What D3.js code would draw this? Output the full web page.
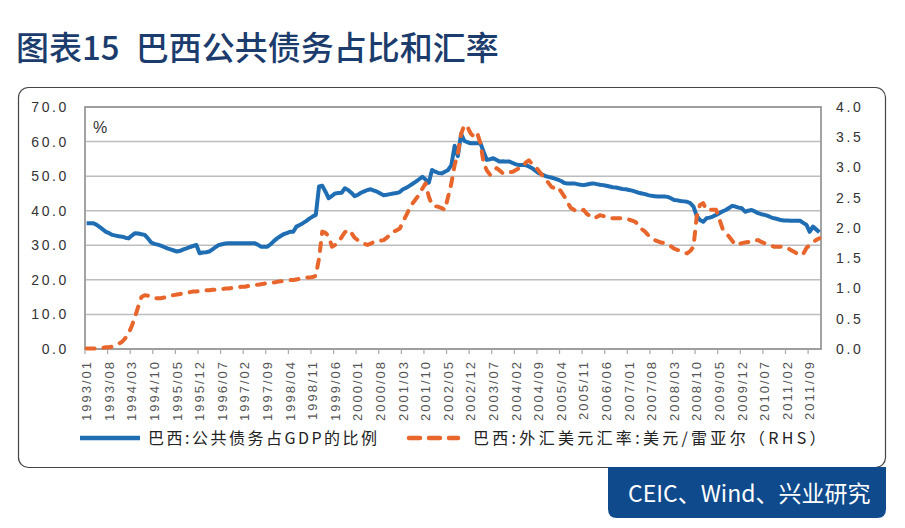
<!DOCTYPE html>
<html>
<head>
<meta charset="utf-8">
<script src="https://cdn.jsdelivr.net/npm/d3@7"></script>
<style>
  html, body { margin: 0; padding: 0; background: #fff; }
  svg { display: block; }
</style>
</head>
<body>
<svg id="chart" width="905" height="528"></svg>
<script>
// ---------------- DATA ----------------
const titleNumber = "图表15";
const titleText = "巴西公共债务占比和汇率";
const sourceText = "CEIC、Wind、兴业研究";
const seriesNames = ["巴西:公共债务占GDP的比例", "巴西:外汇美元汇率:美元/雷亚尔（RHS）"];
const startYear = 1993, endYear = 2011;
const leftTicks = [0, 10, 20, 30, 40, 50, 60, 70];
const rightTicks = [0, 0.5, 1.0, 1.5, 2.0, 2.5, 3.0, 3.5, 4.0];
const labelEvery = 7;

// Public debt, % of GDP (monthly, 1993/01 - 2011/12)
const debtRatio = [
  36.4, 36.4, 36.4, 36.0, 35.3, 34.6, 33.9, 33.5, 33.0, 32.8, 32.6, 32.5,   // 1993
  32.2, 32.0, 32.8, 33.5, 33.4, 33.2, 33.0, 32.0, 30.8, 30.4, 30.2, 29.9,   // 1994
  29.5, 29.1, 28.8, 28.5, 28.2, 28.4, 28.8, 29.1, 29.5, 29.8, 30.1, 27.7,   // 1995
  27.9, 28.0, 28.2, 28.8, 29.5, 30.1, 30.3, 30.5, 30.6, 30.6, 30.6, 30.6,   // 1996
  30.6, 30.6, 30.6, 30.6, 30.6, 30.2, 29.6, 29.6, 29.6, 30.3, 31.2, 32.0,   // 1997
  32.6, 33.2, 33.5, 33.9, 33.9, 35.4, 35.9, 36.4, 37.0, 37.7, 38.3, 38.8,   // 1998
  47.0, 47.2, 45.5, 43.6, 44.3, 45.0, 45.1, 45.2, 46.5, 46.0, 45.2, 44.2,   // 1999
  44.6, 45.2, 45.6, 46.0, 46.2, 45.8, 45.5, 45.0, 44.5, 44.6, 44.8, 45.0,   // 2000
  45.1, 45.4, 46.2, 46.6, 47.2, 47.8, 48.4, 49.1, 49.8, 49.0, 48.1, 51.8,   // 2001
  51.3, 50.9, 50.8, 51.3, 51.8, 53.2, 58.8, 55.8, 62.2, 60.2, 59.8, 59.5,   // 2002
  59.5, 59.5, 59.5, 57.0, 54.7, 54.9, 55.2, 54.7, 54.2, 54.3, 54.2, 54.2,   // 2003
  53.8, 53.4, 53.2, 53.2, 53.2, 52.8, 52.3, 51.6, 50.9, 50.5, 50.1, 49.8,   // 2004
  49.6, 49.3, 49.0, 48.6, 48.0, 47.9, 47.9, 47.9, 47.7, 47.5, 47.4, 47.6,   // 2005
  47.8, 47.9, 47.7, 47.5, 47.4, 47.2, 47.0, 46.8, 46.7, 46.5, 46.3, 46.2,   // 2006
  46.0, 45.8, 45.5, 45.2, 45.0, 44.8, 44.5, 44.3, 44.2, 44.1, 44.1, 44.1,   // 2007
  44.0, 43.6, 43.1, 43.0, 42.8, 42.7, 42.6, 42.2, 41.2, 38.5, 37.3, 36.8,   // 2008
  37.8, 38.0, 38.3, 38.8, 39.3, 39.8, 40.2, 40.8, 41.4, 41.2, 40.9, 40.7,   // 2009
  39.7, 40.0, 40.2, 39.8, 39.3, 39.0, 38.8, 38.5, 38.1, 37.8, 37.6, 37.3,   // 2010
  37.2, 37.2, 37.1, 37.1, 37.1, 37.1, 36.5, 35.9, 33.9, 35.4, 34.6, 33.8    // 2011
];

// USD/BRL exchange rate (monthly, 1993/01 - 2011/12), right axis
const usdBrl = [
  0.01, 0.01, 0.01, 0.01, 0.01, 0.02, 0.03, 0.03, 0.04, 0.06, 0.09, 0.12,   // 1993
  0.18, 0.26, 0.38, 0.53, 0.70, 0.86, 0.89, 0.88, 0.85, 0.84, 0.84, 0.84,   // 1994
  0.85, 0.86, 0.88, 0.89, 0.90, 0.91, 0.92, 0.93, 0.94, 0.95, 0.95, 0.96,   // 1995
  0.96, 0.97, 0.97, 0.98, 0.98, 0.99, 0.99, 1.00, 1.00, 1.01, 1.02, 1.02,   // 1996
  1.03, 1.03, 1.04, 1.05, 1.06, 1.06, 1.07, 1.08, 1.09, 1.10, 1.10, 1.11,   // 1997
  1.12, 1.12, 1.13, 1.14, 1.14, 1.15, 1.16, 1.17, 1.18, 1.18, 1.19, 1.21,   // 1998
  1.50, 1.94, 1.92, 1.86, 1.69, 1.72, 1.77, 1.85, 1.93, 1.97, 1.92, 1.84,   // 1999
  1.80, 1.77, 1.74, 1.72, 1.74, 1.77, 1.78, 1.79, 1.80, 1.84, 1.89, 1.94,   // 2000
  1.96, 1.99, 2.10, 2.21, 2.32, 2.41, 2.48, 2.55, 2.65, 2.74, 2.52, 2.38,   // 2001
  2.36, 2.35, 2.33, 2.30, 2.52, 2.74, 3.04, 3.23, 3.55, 3.70, 3.67, 3.56,   // 2002
  3.51, 3.57, 3.40, 3.07, 2.95, 2.88, 2.92, 2.99, 2.95, 2.90, 2.91, 2.92,   // 2003
  2.93, 2.96, 2.99, 3.01, 3.08, 3.12, 3.06, 3.01, 2.95, 2.88, 2.82, 2.75,   // 2004
  2.68, 2.66, 2.68, 2.60, 2.52, 2.42, 2.33, 2.30, 2.27, 2.28, 2.30, 2.23,   // 2005
  2.20, 2.16, 2.18, 2.21, 2.20, 2.18, 2.16, 2.16, 2.16, 2.16, 2.16, 2.16,   // 2006
  2.14, 2.12, 2.10, 2.05, 1.98, 1.94, 1.88, 1.84, 1.80, 1.78, 1.76, 1.75,   // 2007
  1.73, 1.70, 1.66, 1.64, 1.62, 1.60, 1.58, 1.62, 1.69, 2.19, 2.38, 2.41,   // 2008
  2.30, 2.30, 2.30, 2.30, 2.15, 1.99, 1.92, 1.86, 1.79, 1.72, 1.73, 1.75,   // 2009
  1.76, 1.77, 1.77, 1.79, 1.80, 1.77, 1.75, 1.73, 1.71, 1.69, 1.69, 1.69,   // 2010
  1.69, 1.67, 1.64, 1.61, 1.58, 1.55, 1.57, 1.67, 1.72, 1.77, 1.80, 1.83    // 2011
];

// month categories "1993/01" ...
const months = [];
for (let y = startYear; y <= endYear; y++)
  for (let m = 1; m <= 12; m++) months.push(y + "/" + String(m).padStart(2, "0"));

// ---------------- CHART ----------------
const svg = d3.select("#chart");
const plot = { left: 85, right: 821, top: 107, bottom: 349 };

const blue = "#1f6db3", orange = "#e8662c";
const numFont = "'Liberation Sans', Arial, sans-serif";
const cjkFont = "'Noto Sans CJK SC', 'Noto Sans', sans-serif";

// title
const title = svg.append("text")
  .attr("x", 16).attr("y", 60)
  .attr("font-family", cjkFont)
  .attr("font-size", 33)
  .attr("font-weight", 500)
  .attr("fill", "#1b3c6c");
title.append("tspan").text(titleNumber);
title.append("tspan").attr("dx", 16).text(titleText);

// frame
svg.append("rect")
  .attr("x", 18.5).attr("y", 87.5)
  .attr("width", 867).attr("height", 380)
  .attr("rx", 10)
  .attr("fill", "none")
  .attr("stroke", "#444")
  .attr("stroke-width", 1.2);

// source box
const bx0 = 608, bx1 = 886, by0 = 467, by1 = 518, r = 9;
svg.append("path")
  .attr("d", `M${bx0},${by0} H${bx1} V${by1 - r} Q${bx1},${by1} ${bx1 - r},${by1} H${bx0 + r} Q${bx0},${by1} ${bx0},${by1 - r} Z`)
  .attr("fill", "#0f4a8c");
svg.append("text")
  .attr("x", 628).attr("y", 502)
  .attr("font-family", cjkFont)
  .attr("font-size", 23)
  .attr("fill", "#ffffff")
  .text(sourceText);

// scales
const x = d3.scaleBand().domain(months).range([plot.left, plot.right]).padding(0);
const yL = d3.scaleLinear().domain([0, 70]).range([plot.bottom, plot.top]);
const yR = d3.scaleLinear().domain([0, 4]).range([plot.bottom, plot.top]);
const cx = d => x(d) + x.bandwidth() / 2;

// gridlines
svg.append("g")
  .selectAll("line")
  .data(leftTicks)
  .join("line")
  .attr("x1", plot.left).attr("x2", plot.right)
  .attr("y1", d => yL(d)).attr("y2", d => yL(d))
  .attr("stroke", "#bdbdbd")
  .attr("stroke-width", 1.5);

// plot border
svg.append("rect")
  .attr("x", plot.left).attr("y", plot.top)
  .attr("width", plot.right - plot.left).attr("height", plot.bottom - plot.top)
  .attr("fill", "none")
  .attr("stroke", "#9a9a9a")
  .attr("stroke-width", 1.8);

// left axis
const axL = svg.append("g")
  .attr("transform", `translate(${plot.left - 13},0)`)
  .call(d3.axisLeft(yL).tickValues(leftTicks).tickSize(0).tickFormat(d3.format(".1f")));
axL.select(".domain").remove();
axL.selectAll("text")
  .attr("font-family", numFont).attr("font-size", 14)
  .attr("fill", "#333").attr("letter-spacing", "2.6px");

// right axis
const axR = svg.append("g")
  .attr("transform", `translate(${plot.right + 15},0)`)
  .call(d3.axisRight(yR).tickValues(rightTicks).tickSize(0).tickFormat(d3.format(".1f")));
axR.select(".domain").remove();
axR.selectAll("text")
  .attr("font-family", numFont).attr("font-size", 14)
  .attr("fill", "#333").attr("letter-spacing", "2.6px").attr("x", 0);

// x tick marks (between categories, every 7)
const tickMonths = months.filter((d, i) => i % labelEvery === 0);
svg.append("g")
  .selectAll("line")
  .data(tickMonths)
  .join("line")
  .attr("x1", d => x(d)).attr("x2", d => x(d))
  .attr("y1", plot.bottom).attr("y2", plot.bottom + 5)
  .attr("stroke", "#a8a8a8").attr("stroke-width", 1.2);

// x axis labels
const axB = svg.append("g")
  .attr("transform", `translate(0,${plot.bottom})`)
  .call(d3.axisBottom(x).tickValues(tickMonths).tickSize(0));
axB.select(".domain").remove();
axB.selectAll("text")
  .attr("font-family", numFont).attr("font-size", 13)
  .attr("fill", "#555").attr("letter-spacing", "2px")
  .attr("text-anchor", "end")
  .attr("transform", "rotate(-90)")
  .attr("x", -11).attr("y", 0).attr("dy", "0.36em");

// percent label
svg.append("text")
  .attr("x", 93).attr("y", 133)
  .attr("font-family", numFont).attr("font-size", 16)
  .attr("fill", "#333").text("%");

// lines
const lineL = d3.line().x((d, i) => cx(months[i])).y(d => yL(d));
const lineR = d3.line().x((d, i) => cx(months[i])).y(d => yR(d));

svg.append("path")
  .datum(debtRatio)
  .attr("d", lineL)
  .attr("fill", "none")
  .attr("stroke", blue)
  .attr("stroke-width", 4)
  .attr("stroke-linejoin", "round");

svg.append("path")
  .datum(usdBrl)
  .attr("d", lineR)
  .attr("fill", "none")
  .attr("stroke", orange)
  .attr("stroke-width", 4)
  .attr("stroke-linejoin", "round")
  .attr("stroke-linecap", "round")
  .attr("stroke-dasharray", "8,9");

// legend
const lg = svg.append("g");
lg.append("line")
  .attr("x1", 80).attr("x2", 140).attr("y1", 438).attr("y2", 438)
  .attr("stroke", blue).attr("stroke-width", 4.5);
lg.append("text")
  .attr("x", 148).attr("y", 444)
  .attr("font-family", cjkFont).attr("font-size", 16)
  .attr("letter-spacing", "2.5px")
  .attr("fill", "#222").text(seriesNames[0]);
lg.append("line")
  .attr("x1", 409).attr("x2", 458).attr("y1", 438).attr("y2", 438)
  .attr("stroke", orange).attr("stroke-width", 4.5)
  .attr("stroke-linecap", "round")
  .attr("stroke-dasharray", "11,9");
lg.append("text")
  .attr("x", 473).attr("y", 444)
  .attr("font-family", cjkFont).attr("font-size", 16)
  .attr("letter-spacing", "3.3px")
  .attr("fill", "#222").text(seriesNames[1]);
</script>
</body>
</html>
